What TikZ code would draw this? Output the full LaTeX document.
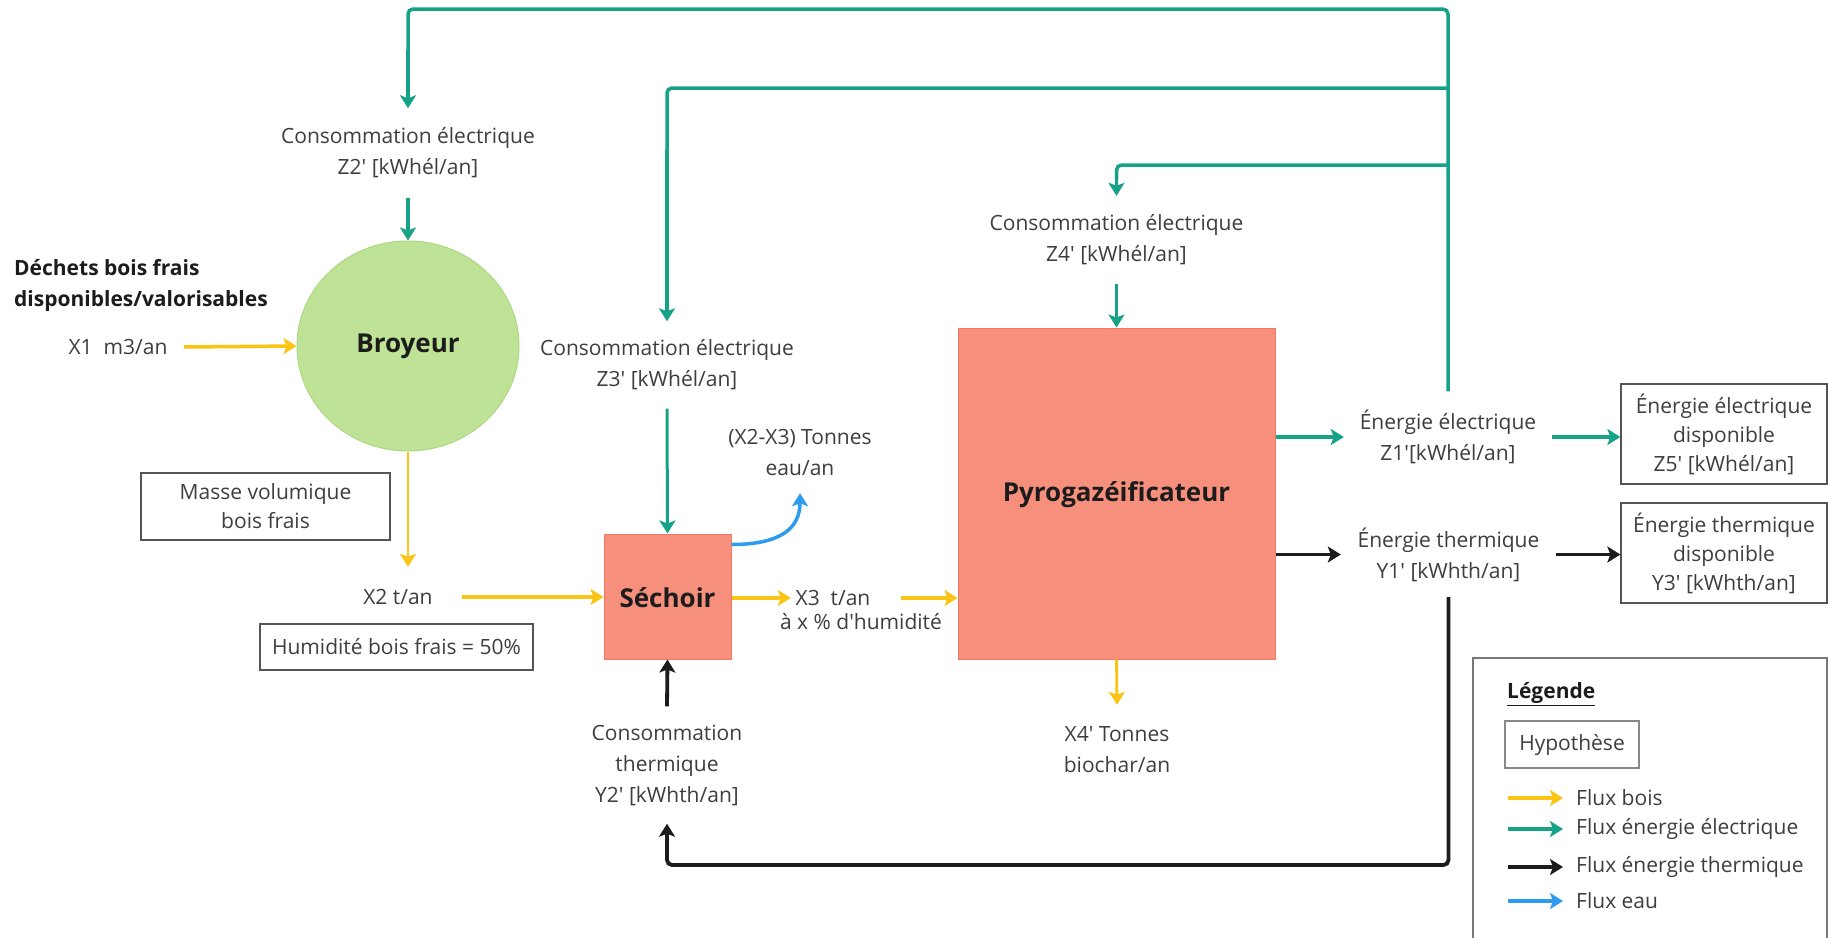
\documentclass[tikz,border=0pt]{standalone}
\usepackage{fontspec}
\setmainfont{Open Sans}[Ligatures=TeXOff]
\usetikzlibrary{arrows.meta,shapes.geometric}

\definecolor{elecc}{RGB}{22,162,134}
\definecolor{woodc}{RGB}{249,196,18}
\definecolor{thermc}{RGB}{28,28,28}
\definecolor{waterc}{RGB}{45,156,239}
\definecolor{salmon}{RGB}{246,144,125}
\definecolor{salmonedge}{RGB}{247,118,96}
\definecolor{leaf}{RGB}{190,227,150}
\definecolor{leafedge}{RGB}{172,216,130}
\definecolor{txtc}{RGB}{62,62,62}
\definecolor{boxedge}{RGB}{85,85,85}

\tikzset{
  lbl/.style={font=\fontsize{21}{31}\selectfont, text=txtc, align=center, inner sep=0pt},
  ttl/.style={font=\fontsize{26}{32}\selectfont\bfseries, text=thermc},
  hyp/.style={lbl, font=\fontsize{21}{29}\selectfont, draw=boxedge, line width=1.3pt, fill=white},
  tip/.style={-{Stealth[length=13pt,width=16pt,inset=3pt]}},
  elec/.style={draw=elecc, line width=3.5pt, tip},
  elecline/.style={draw=elecc, line width=3.5pt, rounded corners=5pt},
  wood/.style={draw=woodc, line width=3.5pt, tip},
  thinwood/.style={draw=woodc, line width=2.8pt, tip},
  therm/.style={draw=thermc, line width=3.8pt, tip},
  water/.style={draw=waterc, line width=3.5pt, tip},
}

\begin{document}
\begin{tikzpicture}[x=1pt,y=-1pt]
\useasboundingbox (0,0) rectangle (1828,937);
\fill[white] (0,0) rectangle (1828,937);

% rows of the supply network
\coordinate (r1) at (0,9);
\coordinate (r2) at (0,88);
\coordinate (r3) at (0,165);
\coordinate (r4) at (0,865);

% process units
\node[ellipse, fill=leaf, draw=leafedge, line width=1pt, minimum width=222pt, minimum height=210pt, inner sep=0pt] (B) at (408,346) {};
\node[ttl] at (B.center) {Broyeur};
\node[rectangle, fill=salmon, draw=salmonedge, line width=1pt, minimum width=127pt, minimum height=125pt, inner sep=0pt] (S) at (667.5,596.5) {};
\node[ttl] at ([yshift=-1.5pt]S.center) {Séchoir};
\node[rectangle, fill=salmon, draw=salmonedge, line width=1pt, minimum width=317pt, minimum height=331pt, inner sep=0pt] (P) at (1116.5,493.5) {};
\node[ttl] at ([yshift=-1.5pt]P.center) {Pyrogazéificateur};

% flow labels
\node[lbl, font=\fontsize{21}{31}\selectfont\bfseries, text=thermc, align=left, anchor=west] (D) at (14,285.5) {Déchets bois frais\\disponibles/valorisables};
\node[lbl, minimum width=132pt] (X1) at (118,347) {X1~~m3/an};
\node[lbl, minimum height=89pt] (Z2) at (408,153) {Consommation électrique\\Z2' [kWhél/an]};
\node[lbl, minimum height=87pt] (Z3) at (667,365) {Consommation électrique\\Z3' [kWhél/an]};
\node[lbl, minimum height=88pt] (Z4) at (1116.5,240) {Consommation électrique\\Z4' [kWhél/an]};
\node[lbl, minimum width=128pt, minimum height=60pt] (X2) at (398,597) {X2 t/an};
\node[lbl, minimum width=84pt] (X3) at (833,598) {X3~~t/an};
\node[lbl] (X3h) at (861,622) {à x \% d'humidité};
\node[lbl, minimum height=82pt] (W) at (800,452) {(X2-X3) Tonnes\\eau/an};
\node[lbl, minimum height=117pt] (Y2) at (667,765) {Consommation\\thermique\\Y2' [kWhth/an]};
\node[lbl, minimum height=90pt] (X4) at (1117,750) {X4' Tonnes\\biochar/an};
\node[lbl, minimum width=208pt, minimum height=91pt] (Z1) at (1448,437) {Énergie électrique\\Z1'[kWhél/an]};
\node[lbl, minimum width=215pt, minimum height=85pt] (Y1) at (1448.5,554.5) {Énergie thermique\\Y1' [kWhth/an]};

% assumptions and outputs
\node[hyp, minimum width=249pt, minimum height=67pt] (MV) at (265.5,506.5) {Masse volumique\\bois frais};
\node[hyp, minimum width=273pt, minimum height=46pt] (HU) at (396.5,647) {Humidité bois frais = 50\%};
\node[hyp, minimum width=206pt, minimum height=100pt] (Z5) at (1724,434) {Énergie électrique\\disponible\\Z5' [kWhél/an]};
\node[hyp, minimum width=206pt, minimum height=100pt] (Y3) at (1724,553) {Énergie thermique\\disponible\\Y3' [kWhth/an]};

% electricity network
\draw[elecline] (Z1.north |- r2) -- (Z3.north |- r2) -- (Z3.north |- 0,200);
\draw[elecline] (Z1.north |- r3) -- (Z4.north |- r3) -- (Z4.north |- 0,180);
\draw[elecline] (Z1.north) -- (Z1.north |- r1) -- (Z2.north |- r1) -- (Z2.north |- 0,60);
\draw[elec] (Z2.north |- 0,50) -- (Z2.north);
\draw[elec] (Z3.north |- 0,150) -- (Z3.north);
\draw[elec] (Z4.north |- 0,170) -- (Z4.north);
\draw[elec] (Z2.south) -- (B.north);
\draw[elec, line width=3pt] (Z3.south) -- (S.north);
\draw[elec] (Z4.south) -- (P.north);
\draw[elec] (P.east |- Z1.west) -- (Z1.west);
\draw[elec] (Z1.east) -- (Z1.east -| Z5.west);

% wood flow
\draw[wood] (X1.east) -- (B.west);
\draw[thinwood] (B.south) -- (B.south |- X2.north);
\draw[wood] (X2.east) -- (X2.east -| S.west);
\draw[wood] (S.east |- X3.west) -- (X3.west);
\draw[wood, shorten <=26pt] (X3.east) -- (X3.east -| P.west);
\draw[thinwood] (P.south) -- (X4.north);

% heat flow
\draw[therm] (P.east |- Y1.west) -- (Y1.west);
\draw[therm] (Y1.east) -- (Y1.east -| Y3.west);
\draw[therm, rounded corners=5pt] (Y1.south) -- (Y1.south |- r4) -- (Y2.south |- r4) -- (Y2.south);
\draw[therm] (Y2.north) -- (S.south);

% water leaving the dryer
\draw[water] ([yshift=-11pt]S.north east) .. controls +(48,0) and +(0,36) .. (W.south);

% legend
\draw[draw=boxedge!80, line width=1.6pt] (1473,945) -- (1473,658) -- (1827,658) -- (1827,945);
\node[lbl, font=\fontsize{21}{31}\selectfont\bfseries, text=thermc, anchor=west] (LT) at (1507,694) {\underline{Légende}};
\node[hyp, draw=boxedge!70, minimum width=134pt, minimum height=47pt] (LH) at (1572,744.5) {Hypothèse};
\coordinate (la) at (1508,0);
\node[lbl, anchor=west] (L1) at (1576,798) {Flux bois};
\node[lbl, anchor=west] (L2) at (1576,829) {Flux énergie électrique};
\node[lbl, anchor=west] (L3) at (1576,867) {Flux énergie thermique};
\node[lbl, anchor=west] (L4) at (1576,901) {Flux eau};
\draw[wood, shorten >=13pt] (la |- L1.west) -- (L1.west);
\draw[elec, shorten >=13pt] (la |- L2.west) -- (L2.west);
\draw[therm, shorten >=13pt] (la |- L3.west) -- (L3.west);
\draw[water, shorten >=13pt] (la |- L4.west) -- (L4.west);
\end{tikzpicture}
\end{document}
